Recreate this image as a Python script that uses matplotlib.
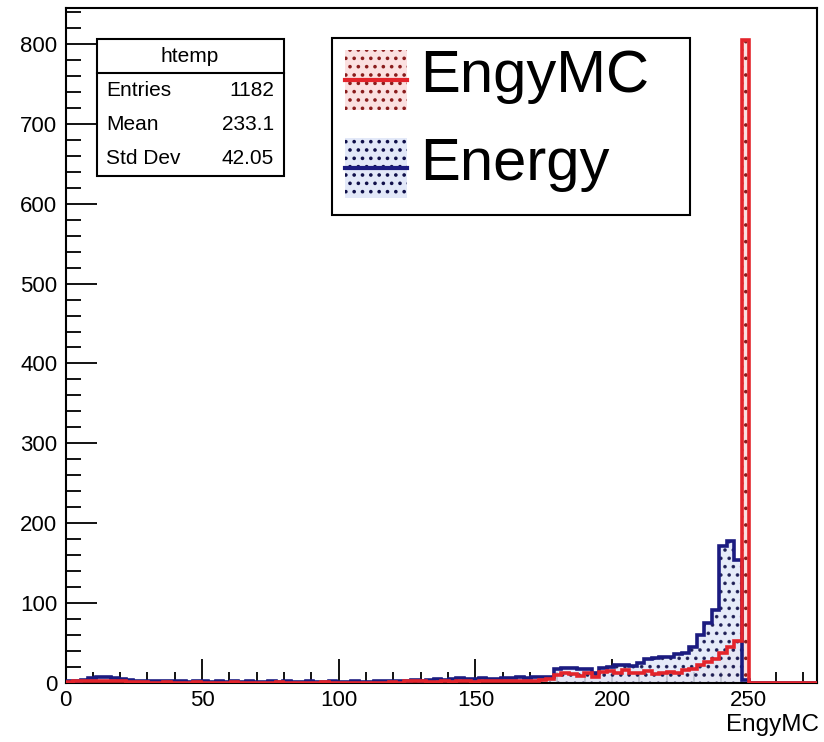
import numpy as np
import matplotlib.pyplot as plt
from matplotlib.patches import Rectangle
from matplotlib.lines import Line2D
from matplotlib.ticker import MultipleLocator

# ROOT-style overlay of two 1D histograms (100 bins from 0 to 275)

bin_edges = np.linspace(0, 275, 101)

# EngyMC (red) counts per bin
engymc_counts = [
    1, 2, 3, 3, 2, 2, 3, 2, 1, 1,
    1, 0, 0, 1, 0, 0, 0, 1, 0, 0,
    0, 0, 1, 0, 0, 0, 0, 0, 1, 0,
    0, 0, 0, 0, 1, 0, 0, 0, 0, 0,
    0, 0, 0, 1, 0, 2, 3, 2, 1, 1,
    2, 1, 2, 2, 1, 2, 2, 3, 2, 3,
    2, 3, 3, 4, 5, 10, 12, 11, 9, 12,
    8, 14, 15, 12, 16, 13, 12, 15, 11, 13,
    14, 12, 16, 18, 22, 26, 30, 38, 45, 52,
    805, 0, 0, 0, 0, 0, 0, 0, 0, 0,
]

# Energy (blue) counts per bin
energy_counts = [
    2, 3, 4, 6, 8, 7, 6, 5, 4, 3,
    3, 2, 2, 3, 2, 2, 1, 2, 2, 1,
    2, 1, 2, 1, 2, 1, 1, 2, 1, 2,
    1, 1, 2, 1, 1, 2, 1, 1, 2, 1,
    1, 2, 3, 2, 3, 3, 4, 3, 4, 5,
    4, 5, 6, 5, 5, 6, 5, 5, 6, 6,
    7, 6, 7, 8, 8, 18, 19, 19, 18, 17,
    12, 19, 20, 22, 22, 21, 25, 30, 31, 33,
    32, 36, 38, 45, 60, 75, 91, 172, 178, 154,
    4, 0, 0, 0, 0, 0, 0, 0, 0, 0,
]

stats_title = "htemp"
stats_names = ["Entries", "Mean", "Std Dev"]
stats_values = ["1182", "233.1", "42.05"]
legend_labels = ["EngyMC", "Energy"]

red = "#e3242b"
red_fill = "#fbe0e0"
red_dots = "#8a1c1c"
blue = "#1b1b80"
blue_fill = "#e2e8f8"
blue_dots = "#10104a"

plt.rcParams["font.family"] = ["Liberation Sans", "DejaVu Sans"]
plt.rcParams["hatch.linewidth"] = 1.4

W, H = 824, 742
fig = plt.figure(figsize=(W / 100, H / 100), dpi=100)
ax = fig.add_axes([65.5 / W, 1 - 683 / H, (817 - 65.5) / W, (683 - 8) / H])

# fills first, outlines on top
ax.stairs(engymc_counts, bin_edges, fill=True, facecolor=red_fill,
          edgecolor=red_dots, hatch="..", linewidth=0, zorder=1)
ax.stairs(energy_counts, bin_edges, fill=True, facecolor=blue_fill,
          edgecolor=blue_dots, hatch="..", linewidth=0, alpha=0.85, zorder=2)
ax.stairs(energy_counts, bin_edges, baseline=0, color=blue, linewidth=2.6, zorder=3)
ax.stairs(engymc_counts, bin_edges, baseline=0, color=red, linewidth=2.6, zorder=4)

ax.set_xlim(0, 275)
ax.set_ylim(0, 845)
ax.xaxis.set_major_locator(MultipleLocator(50))
ax.xaxis.set_minor_locator(MultipleLocator(10))
ax.yaxis.set_major_locator(MultipleLocator(100))
ax.yaxis.set_minor_locator(MultipleLocator(20))
ax.tick_params(axis="x", which="major", direction="in", length=17, width=1.3, pad=5)
ax.tick_params(axis="x", which="minor", direction="in", length=8, width=1.3)
ax.tick_params(axis="y", which="major", direction="in", length=22, width=1.3, pad=6)
ax.tick_params(axis="y", which="minor", direction="in", length=11, width=1.3)
for lab in ax.get_xticklabels() + ax.get_yticklabels():
    lab.set_fontsize(16)
for s in ax.spines.values():
    s.set_linewidth(1.5)

fig.text(819 / W, 1 - 725 / H, "EngyMC", fontsize=17.5,
         ha="right", va="center")


def fx(px):
    return px / W


def fy(py):
    return 1 - py / H


# stats box
fig.patches.append(Rectangle((fx(97), fy(176)), fx(284) - fx(97), fy(39) - fy(176),
                             transform=fig.transFigure, facecolor="white",
                             edgecolor="black", linewidth=1.5, zorder=5))
fig.lines.append(Line2D([fx(97), fx(284)], [fy(73), fy(73)],
                        transform=fig.transFigure, color="black", linewidth=1.5, zorder=6))
fig.text(fx(190), fy(56), stats_title, fontsize=15, ha="center", va="center", zorder=7)
for i, (name, val) in enumerate(zip(stats_names, stats_values)):
    yy = fy(91 + 33.5 * i)
    fig.text(fx(106), yy, name, fontsize=15, ha="left", va="center", zorder=7)
    fig.text(fx(274), yy, val, fontsize=15, ha="right", va="center", zorder=7)

# legend box
fig.patches.append(Rectangle((fx(332), fy(215)), fx(690) - fx(332), fy(38) - fy(215),
                             transform=fig.transFigure, facecolor="white",
                             edgecolor="black", linewidth=1.5, zorder=5))
entries = [(legend_labels[0], red, red_fill, red_dots, 80),
           (legend_labels[1], blue, blue_fill, blue_dots, 168)]
for label, lc, fc, dc, yc in entries:
    fig.patches.append(Rectangle((fx(345), fy(yc + 30)), fx(407) - fx(345), fy(yc - 30) - fy(yc + 30),
                                 transform=fig.transFigure, facecolor=fc, edgecolor=dc,
                                 hatch="..", linewidth=0, zorder=6))
    fig.lines.append(Line2D([fx(345), fx(407)], [fy(yc), fy(yc)], transform=fig.transFigure,
                            color=lc, linewidth=3, zorder=7))
    fig.text(fx(420), fy(yc - 3), label, fontsize=43,
             ha="left", va="center", zorder=8)

fig.savefig("out.png", dpi=100)
